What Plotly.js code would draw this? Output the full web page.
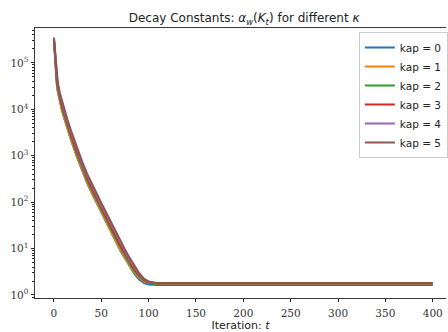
<!DOCTYPE html>
<html><head><meta charset="utf-8">
<script src="https://cdn.plot.ly/plotly-3.0.1.min.js"></script>
<style>html,body{margin:0;padding:0;background:#fff;}#chart{width:448px;height:332px;}</style>
</head><body><div id="chart"></div>
<script>
var iterations = [0,1,2,3,4,6,8,10,14,18,24,30,35,40,45,50,55,60,65,70,75,80,85,90,95,100,105,110,150,200,250,300,350,400];
var seriesNames = ["kap = 0","kap = 1","kap = 2","kap = 3","kap = 4","kap = 5"];
var kap0 = [300000,116000,58200,34900,24300,14600,10200,7280,3880,2180,970,456,257,155,95,60,37.8,23.8,14.6,9.1,6.1,4.1,2.85,2.15,1.8,1.68,1.65,1.64,1.64,1.64,1.64,1.64,1.64,1.64];
var kap1 = [310000,120000,60000,36000,25000,15000,10500,7500,4000,2250,1000,470,265,160,98,62,39,24.5,15,9.5,6.3,4.3,3.05,2.35,1.95,1.83,1.78,1.76,1.76,1.76,1.76,1.76,1.76,1.76];
var kap2 = [320000,134000,67200,40300,28000,16800,11800,8400,4480,2520,1120,526,297,179,110,69.4,43.7,27.4,16.8,10.6,7.0,4.7,3.3,2.5,2.03,1.86,1.80,1.78,1.78,1.78,1.78,1.78,1.78,1.78];
var kap3 = [330000,150000,75000,45000,31300,18800,13100,9380,5000,2810,1250,588,331,200,123,77.5,48.8,30.6,18.8,11.8,7.8,5.2,3.6,2.65,2.1,1.89,1.82,1.80,1.80,1.80,1.80,1.80,1.80,1.80];
var kap4 = [340000,168000,84000,50400,35000,21000,14700,10500,5600,3150,1400,658,371,224,137,86.8,54.6,34.3,21,13.2,8.7,5.7,3.9,2.8,2.18,1.92,1.84,1.81,1.81,1.81,1.81,1.81,1.81,1.81];
var kap5 = [350000,186000,93000,55800,38800,23300,16300,11600,6200,3490,1550,729,411,248,152,96.1,60.5,38,23.3,14.6,9.6,6.3,4.2,2.95,2.25,1.95,1.86,1.82,1.82,1.82,1.82,1.82,1.82,1.82];
var xTickVals = [0,50,100,150,200,250,300,350,400];
var yTickVals = [1,10,100,1000,10000,100000];
var yTickText = ["10<sup>0</sup>","10<sup>1</sup>","10<sup>2</sup>","10<sup>3</sup>","10<sup>4</sup>","10<sup>5</sup>"];

var colors = ["#1f77b4","#ff7f0e","#2ca02c","#d62728","#9467bd","#8c564b"];
var allSeries = [kap0,kap1,kap2,kap3,kap4,kap5];
var traces = allSeries.map(function(s,i){
  return {x: iterations, y: s, type:'scatter', mode:'lines', name: seriesNames[i],
          line:{color:colors[i], width:2}};
});
var minorVals = [];
for (var d=0; d<6; d++){ for (var m=2; m<10; m++){ minorVals.push(m*Math.pow(10,d)); } }
minorVals.push(0.9);

var layout = {
  width:448, height:332,
  margin:{l:35, r:1, t:28, b:34},
  paper_bgcolor:'#fff', plot_bgcolor:'#fff',
  showlegend:true,
  title:{text:"Decay Constants: <i>α</i><sub><i>w</i></sub>(<i>K</i><sub><i>t</i></sub>) for different <i>κ</i>",
         font:{family:"DejaVu Sans", size:12, color:'#222'}, x:0.545, xanchor:'center', y:0.945, yanchor:'middle'},
  xaxis:{range:[-20,414], tickmode:'array', tickvals:xTickVals, ticks:'outside', ticklen:3.5, tickcolor:'#222',
         showline:true, linecolor:'#222', linewidth:0.9, mirror:true, showgrid:false, zeroline:false,
         ticklabelstandoff:2,
         tickfont:{family:"DejaVu Serif", size:10.5, color:'#333'},
         title:{text:"Iteration: <i>t</i>", font:{family:"DejaVu Sans", size:11, color:'#222'}, standoff:6}},
  yaxis:{type:'log', range:[-0.065,5.75], tickmode:'array', tickvals:yTickVals, ticktext:yTickText,
         ticks:'outside', ticklen:3.5, tickcolor:'#222', showline:true, linecolor:'#222', linewidth:0.9,
         showgrid:false, zeroline:false, tickfont:{family:"DejaVu Serif", size:10.5, color:'#333'},
         minor:{tickmode:'array', tickvals:minorVals, ticks:'outside', ticklen:2, tickcolor:'#222', showgrid:false}},
  legend:{x:0.786, y:0.985, xanchor:'left', yanchor:'top', bgcolor:'rgba(255,255,255,0.8)',
          bordercolor:'#ccc', borderwidth:1, font:{family:"DejaVu Sans", size:10.5, color:'#222'},
          tracegroupgap:0, itemwidth:30}
};
Plotly.newPlot('chart', traces, layout, {staticPlot:true, displayModeBar:false});
</script></body></html>
